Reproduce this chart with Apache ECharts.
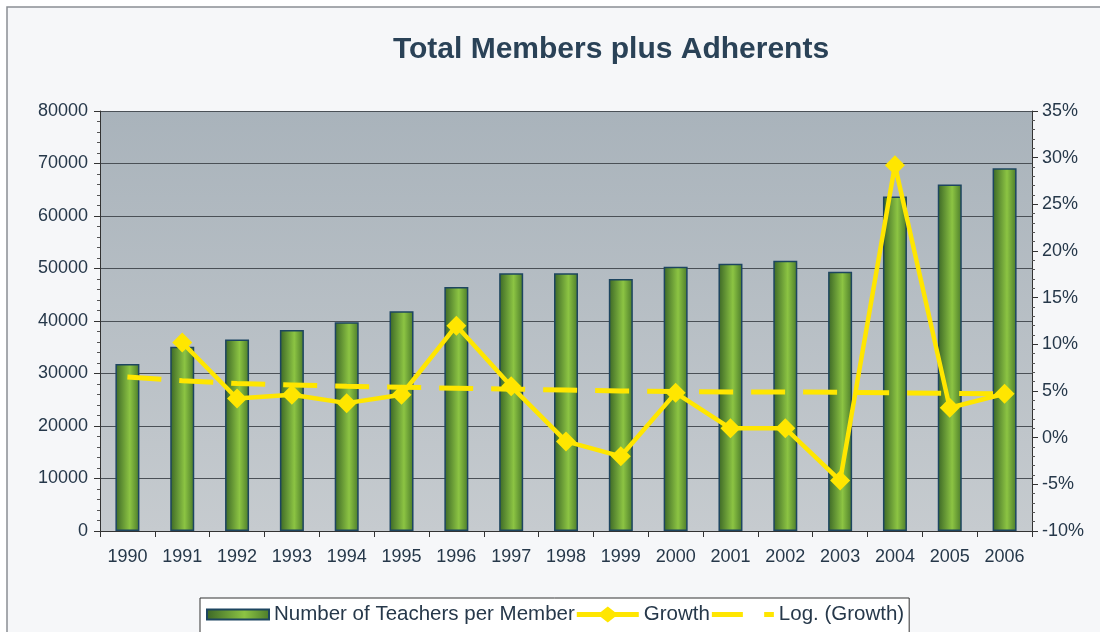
<!DOCTYPE html>
<html>
<head>
<meta charset="utf-8">
<script src="https://cdn.jsdelivr.net/npm/echarts@6/dist/echarts.min.js"></script>
<style>
  html, body { margin: 0; padding: 0; background: #ffffff; }
  #chart { width: 1100px; height: 632px; }
</style>
</head>
<body>
<div id="chart"></div>
<script>
// data
const years = ["1990", "1991", "1992", "1993", "1994", "1995", "1996", "1997", "1998",
  "1999", "2000", "2001", "2002", "2003", "2004", "2005", "2006"];
const members = [31800, 35100, 36500, 38300, 39750, 41850, 46500, 49100, 49100,
  48000, 50350, 50900, 51500, 49400, 63700, 66000, 69100];
// growth in percent, first year has no value
const growth = [null, 10.2, 4.2, 4.6, 3.7, 4.6, 12.0, 5.5, -0.4,
  -2.0, 4.8, 1.0, 1.0, -4.6, 29.2, 3.2, 4.7];
// log trend line, percent
const growthTrend = [6.5, 6.1, 5.8, 5.65, 5.5, 5.4, 5.3, 5.2, 5.1,
  5.0, 4.95, 4.9, 4.9, 4.85, 4.8, 4.75, 4.7];

const chart = echarts.init(document.getElementById("chart"));
const font = "Liberation Sans";
const yellow = "#ffe600";
const textColor = "#26384a";

const barFill = new echarts.graphic.LinearGradient(0, 0, 1, 0, [
  { offset: 0, color: "#3b6626" },
  { offset: 0.6, color: "#8cc443" },
  { offset: 1, color: "#4a7a2a" }
]);

const option = {
  backgroundColor: "#ffffff",
  textStyle: { fontFamily: font },
  graphic: [{
    type: "rect",
    shape: { x: 7, y: 7, width: 1100, height: 640 },
    style: { fill: "#f6f7f9", stroke: "#8a8f94", lineWidth: 1.5 },
    z: -10
  }],
  title: {
    text: "Total Members plus Adherents",
    left: 606,
    textAlign: "center",
    top: 30,
    textStyle: { fontFamily: font, fontSize: 30, fontWeight: "bold", color: "#2a4257" }
  },
  legend: {
    top: 598,
    left: 200,
    itemGap: 2,
    itemWidth: 62,
    itemHeight: 16,
    padding: [6, 5, 8, 6],
    borderColor: "#333",
    borderWidth: 1,
    backgroundColor: "#ffffff",
    textStyle: { fontFamily: font, fontSize: 20.5, color: textColor },
    data: [
      { name: "Number of Teachers per Member", icon: "path://M0,0h62v10h-62z" },
      { name: "Growth", icon: "path://M0,5.5H24L31,0L38,5.5H62V10.5H38L31,16L24,10.5H0Z" },
      { name: "Log. (Growth)", icon: "path://M0,0h32v5h-32zM54,0h10v5h-10z" }
    ]
  },
  grid: {
    left: 100, right: 68, top: 111, bottom: 101,
    show: true,
    borderWidth: 0,
    backgroundColor: new echarts.graphic.LinearGradient(0, 0, 0, 1, [
      { offset: 0, color: "#a9b3bb" },
      { offset: 1, color: "#c6cbcf" }
    ])
  },
  xAxis: {
    type: "category",
    data: years,
    axisLine: { lineStyle: { color: "#333", width: 1 } },
    axisTick: { show: true, alignWithLabel: false, length: 6, lineStyle: { color: "#333" } },
    axisLabel: { fontSize: 18, color: textColor, margin: 17, fontFamily: font }
  },
  yAxis: [
    {
      type: "value",
      min: 0, max: 80000, interval: 10000,
      axisLine: { show: true, lineStyle: { color: "#333" } },
      axisTick: { show: true, length: 6, lineStyle: { color: "#333" } },
      minorTick: { show: true, splitNumber: 5, length: 3, lineStyle: { color: "#555" } },
      splitLine: { lineStyle: { color: "#4a5056", width: 1 } },
      axisLabel: {
        fontSize: 18, color: textColor, margin: 12, fontFamily: font,
        formatter: (v) => String(v)
      }
    },
    {
      type: "value",
      min: -10, max: 35, interval: 5,
      axisLine: { show: true, lineStyle: { color: "#333" } },
      axisTick: { show: true, length: 6, lineStyle: { color: "#333" } },
      minorTick: { show: true, splitNumber: 5, length: 3, lineStyle: { color: "#555" } },
      splitLine: { show: false },
      axisLabel: { fontSize: 18, color: textColor, margin: 10, fontFamily: font, formatter: "{value}%" }
    }
  ],
  series: [
    {
      name: "Number of Teachers per Member",
      type: "bar",
      data: members,
      barWidth: 24,
      itemStyle: { color: barFill, borderColor: "#1d4560", borderWidth: 1.5 }
    },
    {
      name: "Log. (Growth)",
      type: "line",
      yAxisIndex: 1,
      data: growthTrend,
      symbol: "none",
      z: 3,
      lineStyle: { color: yellow, width: 5, type: [34, 18] },
      itemStyle: { color: yellow }
    },
    {
      name: "Growth",
      type: "line",
      yAxisIndex: 1,
      data: growth,
      symbol: "diamond",
      symbolSize: 20,
      z: 4,
      lineStyle: { color: yellow, width: 4.5 },
      itemStyle: { color: yellow }
    }
  ]
};

chart.setOption(option);
</script>
</body>
</html>
